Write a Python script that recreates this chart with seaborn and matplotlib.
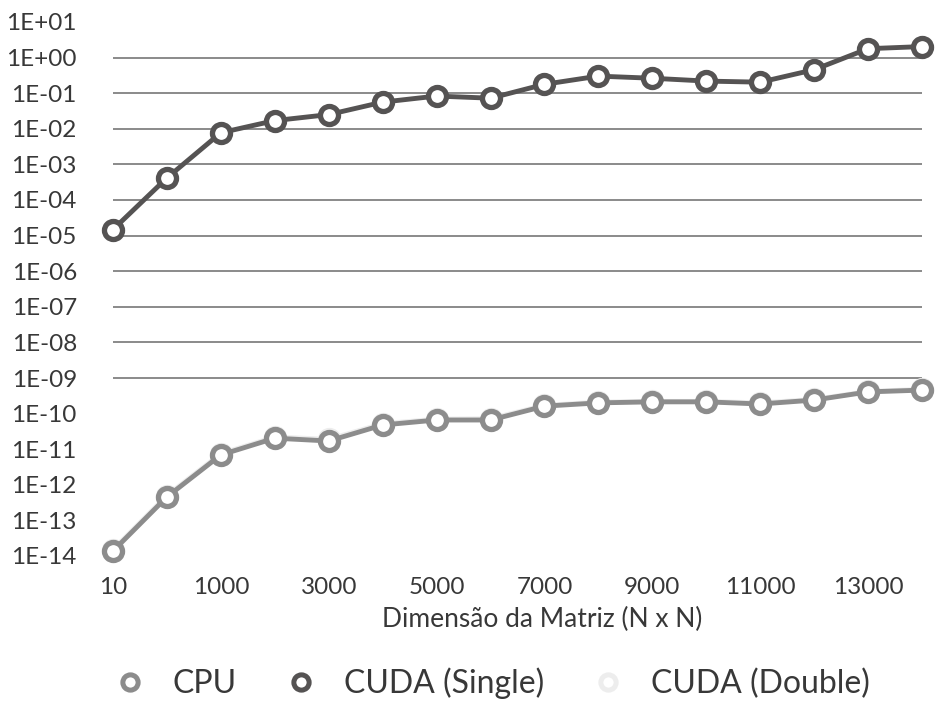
import matplotlib
matplotlib.use("Agg")
import matplotlib.pyplot as plt
from matplotlib.lines import Line2D
import seaborn as sns
import pandas as pd
import numpy as np

# ---- data ----
sizes = ["10", "500", "1000", "2000", "3000", "4000", "5000", "6000", "7000",
         "8000", "9000", "10000", "11000", "12000", "13000", "14000"]
cpu = [1.38e-14, 4.57e-13, 6.92e-12, 2.04e-11, 1.70e-11, 4.79e-11, 6.61e-11, 6.61e-11,
       1.62e-10, 2.00e-10, 2.14e-10, 2.14e-10, 1.86e-10, 2.40e-10, 4.07e-10, 4.57e-10]
cuda_single = [1.48e-5, 4.17e-4, 7.76e-3, 1.70e-2, 2.51e-2, 5.62e-2, 8.32e-2, 7.24e-2,
               0.178, 0.302, 0.263, 0.219, 0.204, 0.457, 1.78, 2.04]
cuda_double = [1.5e-14, 5.0e-13, 7.5e-12, 2.2e-11, 1.9e-11, 5.2e-11, 7.0e-11, 7.2e-11,
               1.7e-10, 2.1e-10, 2.2e-10, 2.2e-10, 2.0e-10, 2.5e-10, 4.2e-10, 4.8e-10]
series_names = ["CPU", "CUDA (Single)", "CUDA (Double)"]
xtick_labels = ["10", "1000", "3000", "5000", "7000", "9000", "11000", "13000"]
ytick_values = [1e1, 1e0, 1e-1, 1e-2, 1e-3, 1e-4, 1e-5, 1e-6, 1e-7, 1e-8, 1e-9,
                1e-10, 1e-11, 1e-12, 1e-13, 1e-14]
ytick_labels = ["1E+01", "1E+00", "1E-01", "1E-02", "1E-03", "1E-04", "1E-05", "1E-06",
                "1E-07", "1E-08", "1E-09", "1E-10", "1E-11", "1E-12", "1E-13", "1E-14"]
grid_values = [1e0, 1e-1, 1e-2, 1e-3, 1e-4, 1e-5, 1e-6, 1e-7, 1e-8, 1e-9]
x_label = "Dimensão da Matriz (N x N)"

colors = {"CPU": "#8c8c8c", "CUDA (Single)": "#555353", "CUDA (Double)": "#ededed"}
text_color = "#383838"

# ---- build long-form table ----
idx = list(range(len(sizes)))
df = pd.concat([
    pd.DataFrame({"pos": idx, "size": sizes, "value": cpu, "series": "CPU"}),
    pd.DataFrame({"pos": idx, "size": sizes, "value": cuda_single, "series": "CUDA (Single)"}),
    pd.DataFrame({"pos": idx, "size": sizes, "value": cuda_double, "series": "CUDA (Double)"}),
], ignore_index=True)

sns.set_theme(style="white")
plt.rcParams["font.family"] = ["Lato", "DejaVu Sans"]

fig = plt.figure(figsize=(9.38, 7.06), dpi=100)
ax = fig.add_axes([113 / 938, 1 - 556 / 706, (922 - 113) / 938, (556 - 22) / 706])

ax.set_yscale("log")
ax.set_ylim(1e-14, 1e1)
ax.set_xlim(0, len(sizes) - 1)

# gridlines (only the visible ones in the reference)
ax.hlines(grid_values, 0, len(sizes) - 1, colors="#8a8a8a", linewidth=1.4, zorder=1)

sns.lineplot(data=df, x="pos", y="value", hue="series",
             hue_order=["CUDA (Double)", "CPU", "CUDA (Single)"],
             palette=colors, marker="o", markersize=13, markeredgewidth=3.8,
             markerfacecolor="white", linewidth=3.5, legend=False, ax=ax,
             clip_on=False, zorder=3)
for ln in ax.lines:
    ln.set_markeredgecolor(ln.get_color())
    ln.set_clip_on(False)

for s in ax.spines.values():
    s.set_visible(False)

ax.set_xticks(idx[::2])
ax.set_xticklabels(xtick_labels)
ax.set_yticks(ytick_values)
ax.set_yticklabels(ytick_labels)
ax.yaxis.set_minor_locator(matplotlib.ticker.NullLocator())
ax.tick_params(axis="y", length=0, pad=26, labelsize=17.5, labelcolor=text_color)
ax.tick_params(axis="x", length=0, pad=15, labelsize=17.5, labelcolor=text_color)
ax.set_ylabel("")
ax.set_xlabel(x_label, fontsize=19, color=text_color)
ax.xaxis.set_label_coords((542 - 113) / 809, -(607 - 556) / 534)

handles = [Line2D([], [], linestyle="none", marker="o", markersize=11,
                  markeredgewidth=3.6, markerfacecolor="white",
                  markeredgecolor=colors[n]) for n in series_names]
leg = ax.legend(handles, series_names, loc="center", ncol=3, frameon=False,
                bbox_to_anchor=((492 - 113) / 809, -(683 - 556) / 534), fontsize=23,
                handletextpad=0.85, columnspacing=1.5, handlelength=1.0)
for t in leg.get_texts():
    t.set_color(text_color)

fig.savefig("out.png", dpi=100, facecolor="white")
